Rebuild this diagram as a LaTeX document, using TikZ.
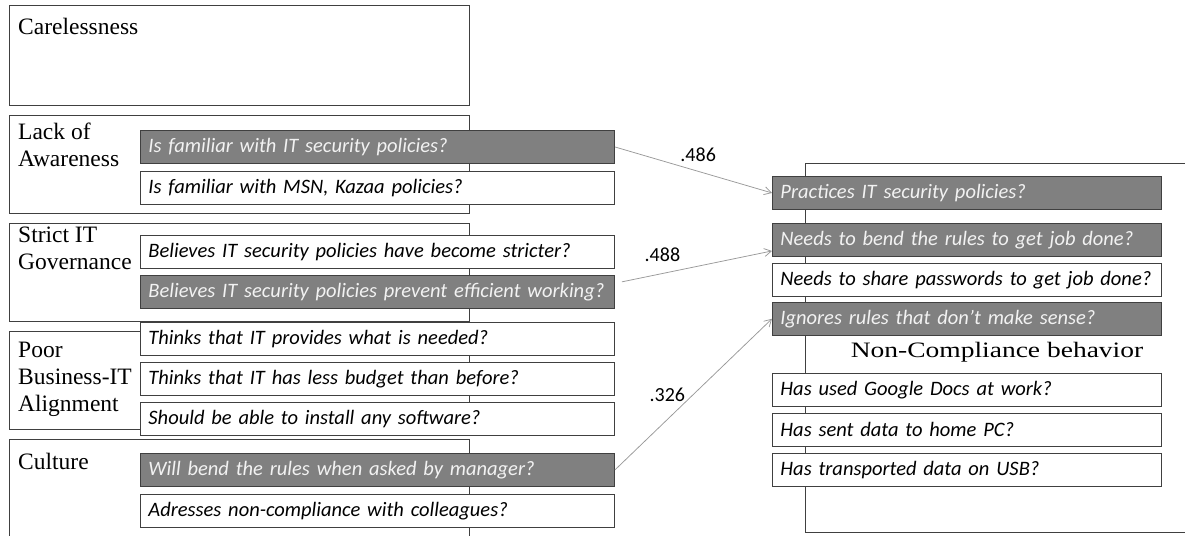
\documentclass[tikz,border=0pt]{standalone}
\usepackage{fontspec}
\usepackage{graphicx}
\setmainfont{Liberation Serif}
\newfontfamily\calibri{Carlito}
\usetikzlibrary{arrows.meta}
\usetikzlibrary{positioning}

\begin{document}
\begin{tikzpicture}
    [x=1pt, y=-1pt,
     grp/.style={rectangle, draw=black!75, line width=0.9pt, minimum width=460pt, minimum height=98pt, anchor=north west, inner sep=0pt},
     lbl/.style={anchor=north west, inner sep=0pt, align=left, font=\fontsize{23.5}{27}\selectfont},
     q/.style={rectangle, draw=black!75, line width=0.9pt, fill=white, minimum height=33pt, text width=458pt, inner xsep=8pt, inner ysep=0pt, align=left, font=\calibri\itshape\fontsize{20.5}{23}\selectfont},
     qg/.style={q, fill=black!50, text=white!95!black},
     rq/.style={q, text width=373pt},
     rqg/.style={qg, text width=373pt},
     ar/.style={-{Straight Barb[length=7pt, width=8pt]}, draw=black!40, line width=0.75pt},
     num/.style={inner sep=0pt, font=\calibri\fontsize{20}{24}\selectfont}]

    \useasboundingbox (0,0) rectangle (1185,535);

    % factor groups
    \node [grp, minimum height=100pt] (care) at (9,5) {};
    \node [grp] (aware) at (9,115) {};
    \node [grp] (gov) at (9,223) {};
    \node [grp] (align) at (9,331) {};
    \node [grp, minimum height=120pt] (cult) at (9,439) {};

    \node [lbl] (careT) at (18,18) {Carelessness};
    \node [lbl] (awareT) at (18,123) {Lack of\\Awareness};
    \node [lbl] (govT) at (18,227) {Strict IT\\Governance};
    \node [lbl] (alignT) at (18,342) {Poor\\Business-IT\\Alignment};
    \node [lbl] (cultT) at (18,453) {Culture};

    % survey items
    \node [qg, anchor=north west] (aw1) at (140,130) {Is familiar with IT security policies?};
    \node [q, below=7pt of aw1] (aw2) {Is familiar with MSN, Kazaa policies?};

    \node [q, anchor=north west] (gv1) at (140,235) {Believes IT security policies have become stricter?};
    \node [qg, below=6pt of gv1] (gv2) {Believes IT security policies prevent efficient working?};

    \node [q, anchor=north west] (al1) at (140,322) {Thinks that IT provides what is needed?};
    \node [q, below=6pt of al1] (al2) {Thinks that IT has less budget than before?};
    \node [q, below=6pt of al2] (al3) {Should be able to install any software?};

    \node [qg, anchor=north west] (cu1) at (140,453) {Will bend the rules when asked by manager?};
    \node [q, below=7pt of cu1] (cu2) {Adresses non-compliance with colleagues?};

    % non-compliance
    \node [grp, minimum width=400pt, minimum height=369pt] (nc) at (805,163) {};

    \node [rqg, anchor=north west] (nc1) at (772,176) {Practices IT security policies?};
    \node [rqg, anchor=north west] (nc2) at (772,223) {Needs to bend the rules to get job done?};
    \node [rq, below=6pt of nc2] (nc3) {Needs to share passwords to get job done?};
    \node [rqg, below=5pt of nc3] (nc4) {Ignores rules that don’t make sense?};

    \node [lbl, anchor=center, font=\fontsize{22}{26}\selectfont] (ncT) at (997,352) {\scalebox{1.25}[1]{Non-Compliance behavior}};

    \node [rq, anchor=north west] (nc5) at (772,373) {Has used Google Docs at work?};
    \node [rq, below=6pt of nc5] (nc6) {Has sent data to home PC?};
    \node [rq, below=6pt of nc6] (nc7) {Has transported data on USB?};

    % paths
    \draw [ar] (aw1.east) -- node [num, pos=0.53, above=9pt] {.486} (nc1.west);
    \draw [ar] ([xshift=7pt, yshift=10pt] gv2.east) -- node [num, pos=0.27, above=11pt] {.488} ([yshift=-11pt] nc2.west);
    \draw [ar] (cu1.east) -- node [num, pos=0.5, left=8pt] {.326} (nc4.west);
\end{tikzpicture}
\end{document}
